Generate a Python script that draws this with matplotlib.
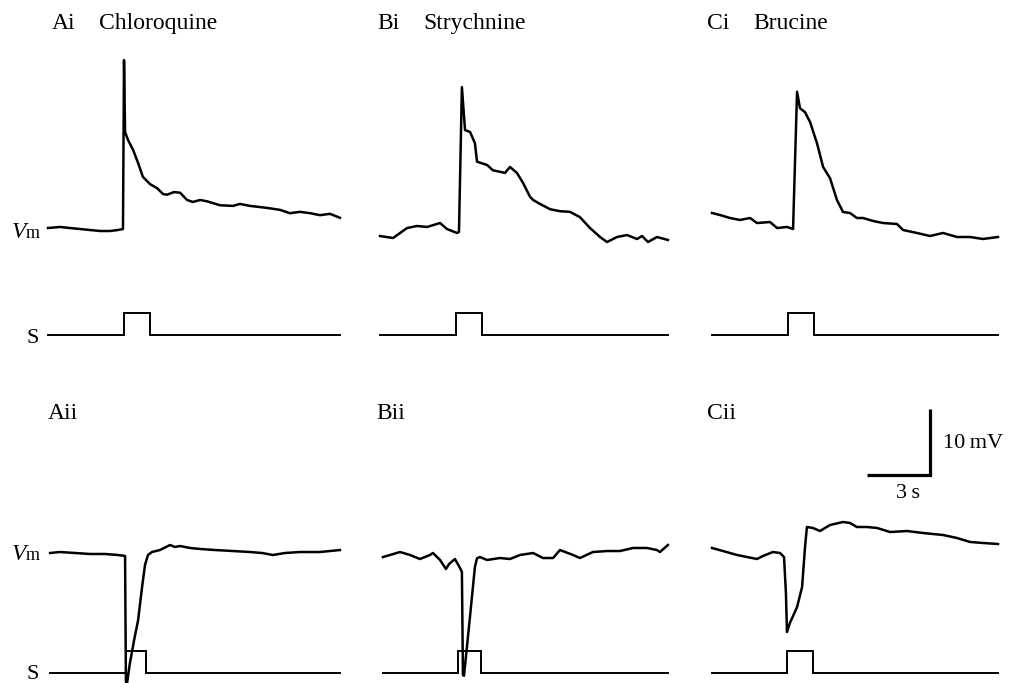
import matplotlib
matplotlib.use("Agg")
import matplotlib.pyplot as plt

plt.rcParams["font.family"] = ["Liberation Serif", "DejaVu Serif"]

# membrane potential traces: time (s) and Vm (mV, relative to the Vm marker level)
AI_T = [0.00, 0.57, 1.05, 1.52, 2.00, 2.48, 2.95, 3.33, 3.57, 3.62, 3.67, 3.81, 4.05, 4.29,
        4.52, 4.86, 5.19, 5.48, 5.67, 6.00, 6.29, 6.62, 6.90, 7.24, 7.57, 8.19, 8.81, 9.14,
        9.62, 10.43, 11.05, 11.52, 12.00, 12.48, 12.95, 13.43, 13.90]
AI_V = [0.45, 0.61, 0.45, 0.30, 0.15, 0.00, 0.00, 0.15, 0.30, 25.9, 15.0, 13.8, 12.3, 10.3,
        8.2, 7.1, 6.5, 5.6, 5.5, 5.9, 5.8, 4.7, 4.4, 4.7, 4.5, 3.9, 3.8, 4.1,
        3.8, 3.5, 3.2, 2.7, 2.9, 2.7, 2.4, 2.6, 2.0]

BI_T = [0.00, 0.62, 1.29, 1.76, 2.24, 2.86, 3.19, 3.67, 3.76, 3.90, 4.05, 4.29, 4.52, 4.62,
        5.10, 5.38, 5.95, 6.19, 6.52, 6.81, 7.14, 7.29, 7.62, 8.10, 8.57, 9.05, 9.52, 10.00,
        10.48, 10.81, 11.29, 11.76, 12.24, 12.48, 12.76, 13.19, 13.71]
BI_V = [-0.76, -1.06, 0.45, 0.76, 0.61, 1.21, 0.30, -0.30, -0.15, 21.8, 15.3, 15.0, 13.3, 10.5,
        10.0, 9.2, 8.8, 9.7, 8.8, 7.3, 5.2, 4.7, 4.1, 3.3, 3.0, 2.9, 2.1, 0.45,
        -0.91, -1.67, -0.91, -0.61, -1.21, -0.76, -1.67, -0.91, -1.36]

CI_T = [0.00, 0.38, 0.86, 1.33, 1.81, 2.14, 2.76, 3.10, 3.57, 3.86, 4.05, 4.19, 4.43, 4.67,
        5.00, 5.29, 5.62, 5.95, 6.24, 6.57, 6.90, 7.19, 7.67, 8.14, 8.81, 9.10, 9.76, 10.38,
        11.00, 11.67, 12.29, 12.90, 13.62]
CI_V = [2.73, 2.42, 1.97, 1.67, 1.97, 1.21, 1.36, 0.45, 0.61, 0.30, 21.1, 18.6, 18.0, 16.5,
        13.3, 9.7, 8.0, 4.7, 2.88, 2.73, 1.97, 1.97, 1.52, 1.21, 1.06, 0.15, -0.30, -0.76,
        -0.30, -0.91, -0.91, -1.21, -0.91]

AII_T = [0.10, 0.57, 1.29, 2.00, 2.71, 3.33, 3.67, 3.71, 3.76, 3.90, 4.10, 4.29, 4.48, 4.62,
         4.76, 4.95, 5.33, 5.81, 6.05, 6.29, 6.76, 7.24, 7.95, 8.81, 9.62, 10.19, 10.71, 11.29,
         12.00, 12.95, 13.90]
AII_V = [0.00, 0.15, 0.00, -0.15, -0.15, -0.30, -0.45, -19.5, -19.8, -16.7, -13.2, -10.2, -5.15, -1.8,
         -0.3, 0.15, 0.45, 1.21, 0.91, 1.06, 0.76, 0.61, 0.45, 0.30, 0.15, 0.00, -0.30, 0.00,
         0.15, 0.15, 0.45]

BII_T = [0.14, 0.48, 0.95, 1.43, 1.90, 2.38, 2.52, 2.86, 3.14, 3.29, 3.57, 3.81, 3.90, 3.95,
         4.00, 4.29, 4.52, 4.62, 4.76, 5.10, 5.71, 6.19, 6.67, 7.29, 7.76, 8.24, 8.57, 9.19,
         9.52, 10.14, 10.81, 11.43, 12.05, 12.71, 13.19, 13.33, 13.71]
BII_V = [-0.61, -0.30, 0.15, -0.30, -0.91, -0.30, 0.00, -1.06, -2.42, -1.67, -0.91, -2.27, -2.88, -18.5,
         -18.6, -9.5, -2.1, -0.8, -0.61, -1.06, -0.76, -0.91, -0.30, 0.00, -0.76, -0.76, 0.45, -0.30,
         -0.76, 0.15, 0.30, 0.30, 0.76, 0.76, 0.45, 0.15, 1.21]

CII_T = [0.00, 0.52, 1.19, 1.67, 2.14, 2.43, 2.90, 3.24, 3.43, 3.52, 3.57, 3.71, 4.05, 4.29,
         4.43, 4.52, 4.81, 5.14, 5.62, 6.24, 6.57, 6.90, 7.38, 7.86, 8.48, 9.29, 10.05, 11.00,
         11.67, 12.29, 12.90, 13.62]
CII_V = [0.76, 0.30, -0.30, -0.61, -0.91, -0.45, 0.15, 0.00, -0.61, -6.06, -11.97, -10.6, -8.2, -5.15,
         0.91, 3.94, 3.79, 3.33, 4.24, 4.70, 4.55, 3.94, 3.94, 3.79, 3.18, 3.33, 3.03, 2.73,
         2.27, 1.67, 1.52, 1.36]

# stimulus marker (s), panels in order Ai, Bi, Ci, Aii, Bii, Cii
S_START = [0.00, 0.00, 0.00, 0.10, 0.14, 0.00]
S_ON = [3.62, 3.62, 3.62, 3.71, 3.71, 3.57]
S_OFF = [4.86, 4.86, 4.86, 4.67, 4.81, 4.81]
S_END = [13.90, 13.71, 13.62, 13.90, 13.71, 13.62]

PANEL_IDS = ["Ai", "Bi", "Ci", "Aii", "Bii", "Cii"]
DRUGS = ["Chloroquine", "Strychnine", "Brucine"]
TRACES = [(AI_T, AI_V), (BI_T, BI_V), (CI_T, CI_V),
          (AII_T, AII_V), (BII_T, BII_V), (CII_T, CII_V)]

SCALE_T = 3    # s
SCALE_V = 10   # mV

# ---- layout in pixels ----
W, H = 1017, 683
PX_S, PX_MV = 21.0, 6.6
COL_X = [48, 380, 712]
ROW_VM = [231, 553]       # Vm marker level
ROW_S = [335, 673]        # stimulus baseline
S_HEIGHT = 22
T_MAX = 14.0
V_LIM = (-21, 27)

fig = plt.figure(figsize=(W / 100, H / 100), dpi=100)


def rect(left, top, width, height):
    return [left / W, 1 - (top + height) / H, width / W, height / H]


def ftext(x, y, s, **kw):
    fig.text(x / W, 1 - y / H, s, **kw)


vm_axes = []
for i, (t, v) in enumerate(TRACES):
    row, col = divmod(i, 3)
    x0 = COL_X[col]
    top = ROW_VM[row] - V_LIM[1] * PX_MV
    ax = fig.add_axes(rect(x0, top, T_MAX * PX_S, (V_LIM[1] - V_LIM[0]) * PX_MV))
    ax.plot(t, v, color="black", lw=1.8, solid_joinstyle="round", clip_on=False)
    ax.set_xlim(0, T_MAX)
    ax.set_ylim(*V_LIM)
    ax.axis("off")
    vm_axes.append(ax)

    sax = fig.add_axes(rect(x0, ROW_S[row] - S_HEIGHT, T_MAX * PX_S, S_HEIGHT))
    st = [S_START[i], S_ON[i], S_ON[i], S_OFF[i], S_OFF[i], S_END[i]]
    sv = [0, 0, 1, 1, 0, 0]
    sax.plot(st, sv, color="black", lw=1.4, solid_joinstyle="miter", clip_on=False)
    sax.set_xlim(0, T_MAX)
    sax.set_ylim(0, 1)
    sax.axis("off")

# scale bar on the Cii panel
sb = vm_axes[5]
t0, v0 = 7.38, 11.8
sb.plot([t0, t0 + SCALE_T, t0 + SCALE_T], [v0, v0, v0 + SCALE_V], color="black",
        lw=2.3, solid_joinstyle="miter", solid_capstyle="butt", clip_on=False)
ftext(943, 443, f"{SCALE_V}\u2009mV", fontsize=16, va="center", ha="left")
ftext(908, 494, f"{SCALE_T}\u2009s", fontsize=16, va="center", ha="center")

# panel titles
TITLE_X = [(52, 99), (377, 423), (707, 753)]
for col in range(3):
    ftext(TITLE_X[col][0], 29, PANEL_IDS[col], fontsize=17, va="baseline")
    ftext(TITLE_X[col][1], 29, DRUGS[col], fontsize=17, va="baseline")
for col, x in enumerate([48, 376, 707]):
    ftext(x, 419, PANEL_IDS[3 + col], fontsize=17, va="baseline")

# row labels
for row in range(2):
    ftext(12, ROW_VM[row] + 7, "V", fontsize=17, style="italic", va="baseline")
    ftext(26, ROW_VM[row] + 7, "m", fontsize=13, va="baseline")
S_BASELINE = [343, 679]
for row in range(2):
    ftext(27, S_BASELINE[row], "S", fontsize=16, va="baseline")

fig.savefig("out.png", dpi=100, facecolor="white")
